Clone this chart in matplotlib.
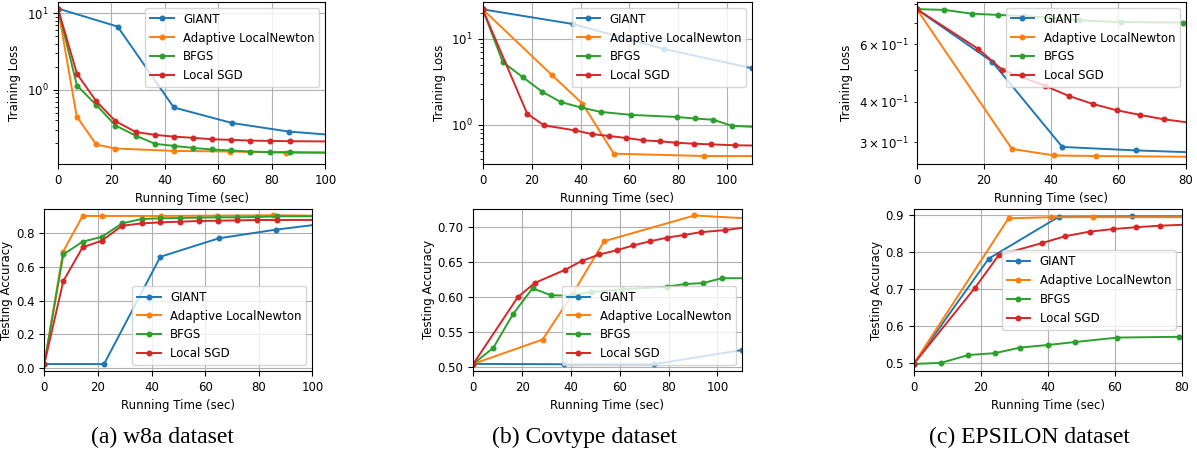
import matplotlib
matplotlib.use("Agg")
import matplotlib.pyplot as plt

plt.rcParams['font.family'] = ['DejaVu Sans']
plt.rcParams['font.size'] = 8.5

names = ["GIANT", "Adaptive LocalNewton", "BFGS", "Local SGD"]
colors = ["C0", "C1", "C2", "C3"]

# ---------------- w8a ----------------
w8a_giant_t = [0, 22.3, 43.3, 65.1, 86.3, 108]
w8a_giant_loss = [11.5, 6.7, 0.59, 0.37, 0.286, 0.25]
w8a_giant_acc = [0.025, 0.025, 0.658, 0.767, 0.818, 0.86]

w8a_aln_t = [0, 7.0, 14.3, 21.4, 43.4, 64.4, 85.4, 108]
w8a_aln_loss = [11.5, 0.449, 0.194, 0.172, 0.160, 0.157, 0.152, 0.150]
w8a_aln_acc = [0.025, 0.688, 0.899, 0.899, 0.899, 0.901, 0.903, 0.90]

w8a_bfgs_t = [0, 7.1, 14.3, 21.5, 29.0, 36.3, 43.3, 50.5, 57.6, 64.8, 72.0, 79.3, 86.9, 108]
w8a_bfgs_loss = [11.5, 1.14, 0.637, 0.343, 0.254, 0.198, 0.186, 0.175, 0.167, 0.162, 0.157, 0.154, 0.154, 0.152]
w8a_bfgs_acc = [0.025, 0.672, 0.747, 0.776, 0.855, 0.881, 0.885, 0.887, 0.889, 0.891, 0.891, 0.893, 0.897, 0.897]

w8a_sgd_t = [0, 7.1, 14.3, 21.5, 29.0, 36.3, 43.3, 50.5, 57.6, 64.8, 72.0, 79.3, 86.9, 108]
w8a_sgd_loss = [11.5, 1.62, 0.711, 0.391, 0.283, 0.259, 0.246, 0.237, 0.227, 0.223, 0.218, 0.216, 0.214, 0.212]
w8a_sgd_acc = [0.025, 0.515, 0.714, 0.753, 0.841, 0.855, 0.861, 0.865, 0.869, 0.871, 0.873, 0.875, 0.875, 0.876]

# ---------------- Covtype ----------------
cov_giant_t = [0, 37.0, 74.1, 110.2]
cov_giant_loss = [22.1, 14.9, 7.65, 4.56]
cov_giant_acc = [0.504, 0.5035, 0.5035, 0.524]

cov_aln_t = [0, 28.4, 40.8, 53.6, 90.6, 127]
cov_aln_loss = [22.1, 3.78, 1.77, 0.464, 0.436, 0.434]
cov_aln_acc = [0.504, 0.539, 0.605, 0.680, 0.717, 0.710]

cov_bfgs_t = [0, 8.2, 16.3, 24.3, 31.9, 40.1, 48.2, 60.8, 79.3, 86.7, 94.3, 101.8, 120]
cov_bfgs_loss = [22.1, 5.40, 3.61, 2.44, 1.85, 1.60, 1.42, 1.31, 1.24, 1.19, 1.15, 0.98, 0.92]
cov_bfgs_acc = [0.504, 0.527, 0.5756, 0.6125, 0.6024, 0.602, 0.607, 0.611, 0.6148, 0.6186, 0.620, 0.627, 0.627]

cov_sgd_t = [0, 18.2, 25.1, 37.6, 44.6, 51.7, 58.7, 65.6, 72.5, 79.2, 86.3, 93.2, 103.3, 115]
cov_sgd_loss = [22.1, 1.35, 0.99, 0.867, 0.785, 0.745, 0.706, 0.664, 0.646, 0.622, 0.606, 0.596, 0.581, 0.575]
cov_sgd_acc = [0.504, 0.5996, 0.620, 0.639, 0.652, 0.661, 0.667, 0.674, 0.680, 0.685, 0.689, 0.693, 0.696, 0.7015]

# ---------------- EPSILON ----------------
eps_giant_t = [0, 22.4, 43.3, 65.1, 87]
eps_giant_loss = [0.770, 0.531, 0.290, 0.283, 0.278]
eps_giant_acc = [0.498, 0.7815, 0.894, 0.895, 0.895]

eps_aln_t = [0, 28.3, 40.9, 53.4, 90]
eps_aln_loss = [0.770, 0.286, 0.273, 0.272, 0.270]
eps_aln_acc = [0.498, 0.890, 0.893, 0.893, 0.893]

eps_bfgs_t = [0, 8.2, 16.3, 24.2, 31.8, 40.0, 48.2, 60.8, 79.2, 88]
eps_bfgs_loss = [0.770, 0.766, 0.746, 0.739, 0.733, 0.725, 0.711, 0.703, 0.700, 0.699]
eps_bfgs_acc = [0.498, 0.501, 0.522, 0.527, 0.542, 0.549, 0.557, 0.569, 0.571, 0.572]

eps_sgd_t = [0, 18.3, 25.4, 38.2, 45.3, 52.5, 59.5, 66.4, 73.4, 87]
eps_sgd_loss = [0.770, 0.581, 0.501, 0.447, 0.416, 0.393, 0.376, 0.364, 0.353, 0.338]
eps_sgd_acc = [0.498, 0.703, 0.791, 0.823, 0.842, 0.854, 0.861, 0.866, 0.870, 0.875]

captions = ["(a) w8a dataset", "(b) Covtype dataset", "(c) EPSILON dataset"]

datasets = [
    dict(t=[w8a_giant_t, w8a_aln_t, w8a_bfgs_t, w8a_sgd_t],
         loss=[w8a_giant_loss, w8a_aln_loss, w8a_bfgs_loss, w8a_sgd_loss],
         acc=[w8a_giant_acc, w8a_aln_acc, w8a_bfgs_acc, w8a_sgd_acc]),
    dict(t=[cov_giant_t, cov_aln_t, cov_bfgs_t, cov_sgd_t],
         loss=[cov_giant_loss, cov_aln_loss, cov_bfgs_loss, cov_sgd_loss],
         acc=[cov_giant_acc, cov_aln_acc, cov_bfgs_acc, cov_sgd_acc]),
    dict(t=[eps_giant_t, eps_aln_t, eps_bfgs_t, eps_sgd_t],
         loss=[eps_giant_loss, eps_aln_loss, eps_bfgs_loss, eps_sgd_loss],
         acc=[eps_giant_acc, eps_aln_acc, eps_bfgs_acc, eps_sgd_acc]),
]

W, H = 1197, 453
fig = plt.figure(figsize=(W / 100, H / 100), dpi=100)


def px_axes(l, r, t, b):
    return fig.add_axes([l / W, (H - b) / H, (r - l) / W, (b - t) / H])


top_boxes = [(58, 325.3, 2, 164), (482.7, 751.7, 2, 164), (916.7, 1185.7, 2, 164)]
bot_boxes = [(44.3, 312.3, 209, 371), (473.3, 741.7, 208.5, 371), (913.7, 1181.7, 209, 371)]
xlims = [(0, 100), (0, 110), (0, 80)]
loss_ylims = [(0.108, 14.0), (0.352, 26.9), (0.257, 0.81)]
acc_ylims = [(-0.016, 0.94), (0.4938, 0.727), (0.479, 0.915)]
acc_leg_loc = ["lower right", "lower right", "center right"]
cap_x = [162, 584, 1029]

for i, d in enumerate(datasets):
    ax = px_axes(*top_boxes[i])
    for k in range(4):
        ax.plot(d['t'][k], d['loss'][k], marker='o', markersize=3.3, lw=1.4,
                color=colors[k], label=names[k])
    ax.set_yscale('log')
    ax.set_xlim(*xlims[i])
    ax.set_ylim(*loss_ylims[i])
    ax.grid(True)
    ax.set_xlabel("Running Time (sec)")
    ax.set_ylabel("Training Loss")
    ax.legend(loc="upper right")

    ax2 = px_axes(*bot_boxes[i])
    for k in range(4):
        ax2.plot(d['t'][k], d['acc'][k], marker='o', markersize=3.3, lw=1.4,
                 color=colors[k], label=names[k])
    ax2.set_xlim(*xlims[i])
    ax2.set_ylim(*acc_ylims[i])
    ax2.grid(True)
    ax2.set_xlabel("Running Time (sec)")
    ax2.set_ylabel("Testing Accuracy", labelpad=2)
    ax2.legend(loc=acc_leg_loc[i])

    fig.text(cap_x[i] / W, (H - 437) / H, captions[i], ha='center', va='center',
             family=['Liberation Serif', 'DejaVu Serif'], fontsize=17)

fig.savefig("out.png", dpi=100)
